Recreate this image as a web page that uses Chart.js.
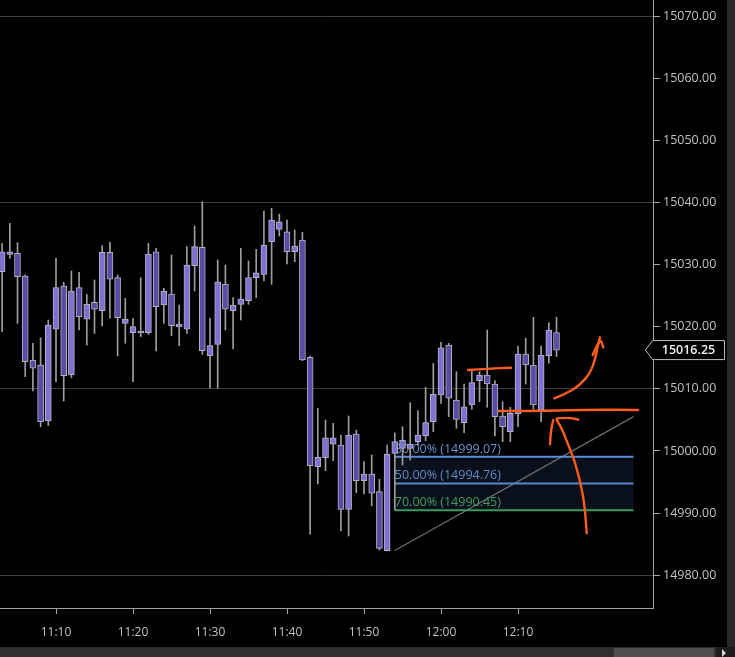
<!DOCTYPE html>
<html>
<head>
<meta charset="utf-8">
<script src="https://cdn.jsdelivr.net/npm/chart.js@4.4.0/dist/chart.umd.min.js"></script>
<style>
html,body{margin:0;padding:0;background:#000;overflow:hidden}
canvas{display:block}
</style>
</head>
<body>
<canvas id="c" width="735" height="657"></canvas>
<script>
// ---- DATA ----
// minutes after 11:00 (1-minute candles, 11:03 .. 12:15)
const minutes = [3,4,5,6,7,8,9,10,11,12,13,14,15,16,17,18,19,20,21,22,23,24,25,26,27,28,29,30,31,32,33,34,35,36,37,38,39,40,41,42,43,44,45,46,47,48,49,50,51,52,53,54,55,56,57,58,59,60,61,62,63,64,65,66,67,68,69,70,71,72,73,74,75];
const opens = [15028.87,15031.67,15031.84,15028.18,15014.65,15013.85,15004.83,15019.60,15026.57,15012.24,15026.30,15021.21,15023.95,15022.59,15032.00,15027.91,15020.56,15019.05,15019.00,15019.05,15032.09,15023.51,15025.28,15019.97,15019.60,15029.84,15032.80,15015.30,15017.18,15026.89,15022.59,15023.62,15024.20,15027.91,15028.45,15033.70,15035.70,15035.31,15032.09,15033.98,15015.09,14997.47,14998.92,15001.08,15000.97,14990.61,15002.74,14995.22,14996.30,14993.45,14983.95,14999.63,15000.43,15000.43,15001.50,15002.42,15004.72,15009.02,15017.07,15008.21,15004.56,15007.41,15011.32,15012.24,15010.79,15005.64,15003.11,15005.96,15015.62,15013.85,15006.60,15015.35,15019.05];
const highs = [15033.45,15036.67,15033.54,15028.34,15017.34,15018.24,15021.09,15031.03,15027.17,15028.99,15028.78,15025.23,15027.54,15033.06,15033.61,15028.34,15024.59,15021.37,15027.91,15033.45,15032.64,15026.20,15031.56,15023.51,15032.90,15036.23,15040.14,15021.37,15030.76,15029.95,15024.69,15032.64,15030.60,15032.48,15038.65,15039.08,15038.16,15037.20,15035.59,15035.22,15015.30,15006.88,15004.99,15004.46,15002.58,15005.64,15003.38,14998.28,14999.36,14995.44,15000.97,15002.90,15003.91,15007.78,15006.49,15010.26,15014.12,15017.50,15017.34,15012.77,15010.79,15013.04,15012.77,15019.48,15011.32,15007.94,15007.04,15016.91,15018.15,15021.53,15016.91,15020.66,15021.53];
const lows = [15019.21,15031.03,15020.56,15011.96,15009.66,15003.91,15004.07,15011.16,15008.05,15011.80,15019.48,15017.07,15018.95,15020.13,15021.37,15015.30,15017.34,15011.16,15018.41,15018.79,15016.10,15020.56,15018.57,15016.96,15018.95,15025.76,15015.57,15010.10,15010.10,15019.48,15016.43,15021.09,15023.62,15024.69,15027.38,15026.84,15034.62,15030.11,15030.48,15014.55,14986.59,14994.69,14996.83,14998.44,14987.12,14986.31,14993.28,14993.08,14991.14,14984.06,14983.90,14990.50,14997.75,14998.55,15000.97,15001.66,15003.11,15007.68,15005.52,15003.66,15002.95,15006.72,15007.94,15007.04,15002.42,15001.50,15001.50,15003.91,15010.79,15006.72,15004.72,15014.12,15015.19];
const closes = [15032.09,15032.09,15028.07,15014.38,15013.32,15004.72,15020.29,15026.30,15012.13,15025.76,15021.63,15023.67,15022.82,15032.00,15027.65,15021.47,15021.26,15020.02,15019.32,15031.72,15023.24,15025.76,15020.18,15020.45,15029.95,15032.90,15016.15,15016.96,15027.26,15022.82,15023.51,15024.48,15027.91,15028.71,15033.17,15037.20,15036.92,15032.09,15033.01,15014.65,14997.63,14998.99,15002.14,15002.14,14990.61,15002.58,14995.22,14996.30,14993.19,14984.33,14999.52,15001.50,15001.77,15001.08,15002.58,15004.56,15009.18,15016.63,15008.49,15005.10,15007.13,15011.00,15012.24,15010.79,15005.52,15003.91,15006.07,15015.62,15013.85,15007.41,15015.46,15019.48,15016.25];

const timeTicks = [10,20,30,40,50,60,70];          // 11:10 .. 12:10
const priceTicks = [14980,14990,15000,15010,15020,15030,15040,15050,15060,15070];
const gridPrices = [14980,15010,15040,15070];
const xRange = [2.727, 87.53];
const yRange = [14974.718, 15072.625];

// Fibonacci retracement tool
const fibHigh = 15005.535, fibLow = 14983.985;
const fibLevels = [0.30, 0.50, 0.70];
const fibTime = [54, 85];
const lastPrice = closes[closes.length - 1];

// hand-drawn markup strokes, in (minute, price)
const markupStrokes = [
  [[63.51,15013.04],[66.36,15013.28],[69.09,15013.40]],
  [[67.53,15006.44],[72.86,15006.44],[79.35,15006.68],[85.58,15006.60]],
  [[74.71,15008.49],[76.32,15009.29],[78.05,15010.63],[79.35,15012.51],[80.00,15014.65],[80.43,15017.34],[80.65,15018.31]],
  [[79.70,15015.46],[80.65,15018.31],[81.08,15016.70]],
  [[78.92,14986.75],[78.70,14990.77],[78.27,14993.99],[77.40,14998.28],[76.53,15000.97],[75.67,15003.66],[75.03,15004.99]],
  [[74.58,15004.99],[74.28,15003.66],[74.16,15001.08]],
  [[75.03,15005.26],[76.53,15005.43],[77.83,15005.04]]
];

// ---- CHART ----
const UP = '#7f70d4', DOWN = '#5a4ba6';
const FONT = "'Open Sans', 'Noto Sans', sans-serif";
const fmtTime = v => { const h = 11 + Math.floor(v/60); const m = v % 60; return h + ':' + String(m).padStart(2,'0'); };

function smoothPath(ctx, pts) {
  ctx.beginPath();
  ctx.moveTo(pts[0][0], pts[0][1]);
  if (pts.length < 3) { ctx.lineTo(pts[1][0], pts[1][1]); return; }
  for (let i = 1; i < pts.length - 1; i++) {
    const mx = (pts[i][0] + pts[i+1][0]) / 2, my = (pts[i][1] + pts[i+1][1]) / 2;
    ctx.quadraticCurveTo(pts[i][0], pts[i][1], mx, my);
  }
  const l = pts[pts.length-1];
  ctx.lineTo(l[0], l[1]);
}

const overlay = {
  id: 'overlay',
  beforeDatasetsDraw(chart) {
    const {ctx, scales: {x, y}} = chart;
    ctx.save();
    const x0 = x.getPixelForValue(fibTime[0]), x1 = x.getPixelForValue(fibTime[1]);
    const lv = fibLevels.map(f => fibHigh - f * (fibHigh - fibLow));
    const yt = y.getPixelForValue(lv[0]), yb = y.getPixelForValue(lv[lv.length-1]);
    ctx.fillStyle = '#0a101b';
    ctx.fillRect(x0, yt, x1 - x0, yb - yt);
    ctx.strokeStyle = '#6e6e6e'; ctx.lineWidth = 1.2;
    ctx.beginPath();
    ctx.moveTo(x0, y.getPixelForValue(fibLow));
    ctx.lineTo(x1, y.getPixelForValue(fibHigh));
    ctx.stroke();
    const lineCols = ['#5b8fda', '#5389cc', '#3a9a5c'];
    const txtCols = ['#6393d3', '#5b8cc8', '#3f9e60'];
    ctx.font = '12.5px ' + FONT;
    ctx.textAlign = 'left'; ctx.textBaseline = 'bottom';
    lv.forEach((v, i) => {
      const py = y.getPixelForValue(v);
      ctx.strokeStyle = lineCols[i]; ctx.lineWidth = 2;
      ctx.beginPath(); ctx.moveTo(x0, py); ctx.lineTo(x1, py); ctx.stroke();
      ctx.fillStyle = txtCols[i];
      ctx.fillText((fibLevels[i]*100).toFixed(2) + '% (' + v.toFixed(2) + ')', x0, py - 1.5);
    });
    ctx.restore();
  },
  afterDatasetsDraw(chart) {
    const {ctx, scales: {x, y}} = chart;
    ctx.save();
    ctx.strokeStyle = '#fb5d1d'; ctx.lineWidth = 2.4;
    ctx.lineCap = 'round'; ctx.lineJoin = 'round';
    markupStrokes.forEach(s => {
      const pts = s.map(p => [x.getPixelForValue(p[0]), y.getPixelForValue(p[1])]);
      smoothPath(ctx, pts); ctx.stroke();
    });
    ctx.restore();
  },
  afterDraw(chart) {
    const {ctx, scales: {y}} = chart;
    ctx.save();
    // last price label
    const py = y.getPixelForValue(lastPrice);
    ctx.beginPath();
    ctx.moveTo(645.5, py);
    ctx.lineTo(652.5, py - 9.5);
    ctx.lineTo(724.5, py - 9.5);
    ctx.lineTo(724.5, py + 9.5);
    ctx.lineTo(652.5, py + 9.5);
    ctx.closePath();
    ctx.fillStyle = '#000'; ctx.fill();
    ctx.strokeStyle = '#bdbdbd'; ctx.lineWidth = 1; ctx.stroke();
    ctx.fillStyle = '#f0f0f0';
    ctx.font = '600 12.5px ' + FONT;
    ctx.textAlign = 'center'; ctx.textBaseline = 'middle';
    ctx.fillText(lastPrice.toFixed(2), 688.5, py + 0.5);
    // scrollbars
    ctx.fillStyle = '#282828';
    ctx.fillRect(727, 0, 8, 647);
    ctx.fillStyle = '#2f2f2f';
    ctx.fillRect(0, 647, 735, 10);
    ctx.fillStyle = '#4d4d4d';
    ctx.fillRect(614, 648, 100, 9);
    ctx.fillStyle = '#1c1c1c';
    ctx.fillRect(716, 647, 19, 10);
    ctx.fillStyle = '#d8d8d8';
    ctx.beginPath(); ctx.moveTo(722, 649); ctx.lineTo(726, 653); ctx.lineTo(722, 657); ctx.closePath(); ctx.fill();
    ctx.restore();
  }
};

new Chart(document.getElementById('c').getContext('2d'), {
  type: 'bar',
  data: {
    datasets: [
      {
        data: minutes.map((m, i) => ({x: m, y: [opens[i], closes[i]]})),
        order: 1, grouped: false, barThickness: 6,
        backgroundColor: minutes.map((m, i) => closes[i] >= opens[i] ? UP : DOWN),
        borderColor: '#b3b3bd', borderWidth: 1, borderSkipped: false
      },
      {
        data: minutes.map((m, i) => ({x: m, y: [lows[i], highs[i]]})),
        order: 2, grouped: false, barThickness: 1,
        backgroundColor: '#9d9d9d', borderWidth: 0
      }
    ]
  },
  options: {
    responsive: false, animation: false, devicePixelRatio: 1,
    layout: {padding: 0},
    plugins: {legend: {display: false}, tooltip: {enabled: false}},
    scales: {
      x: {
        type: 'linear', min: xRange[0], max: xRange[1], offset: false,
        afterBuildTicks: s => { s.ticks = timeTicks.map(v => ({value: v})); },
        afterFit: s => { s.height = 49; s.paddingLeft = 0; s.paddingRight = 0; },
        ticks: {callback: v => fmtTime(v), color: '#c2c2c2', font: {family: FONT, size: 12}, padding: 11, maxRotation: 0, autoSkip: false},
        grid: {offset: false, drawOnChartArea: false, drawTicks: true, tickLength: 6, tickColor: '#a5a5a5'},
        border: {display: true, color: '#a5a5a5', width: 1}
      },
      y: {
        position: 'right', min: yRange[0], max: yRange[1], beginAtZero: false,
        afterBuildTicks: s => { s.ticks = priceTicks.map(v => ({value: v})); },
        afterFit: s => { s.width = 82; s.paddingTop = 0; s.paddingBottom = 0; },
        ticks: {callback: v => v.toFixed(2), color: '#c2c2c2', font: {family: FONT, size: 12.5}, padding: 3},
        grid: {color: c => (c.tick && gridPrices.includes(c.tick.value)) ? '#3d3d3d' : 'rgba(0,0,0,0)', tickColor: '#a5a5a5', tickLength: 7, lineWidth: 1},
        border: {display: true, color: '#a5a5a5', width: 1}
      }
    }
  },
  plugins: [overlay]
});
</script>
</body>
</html>
